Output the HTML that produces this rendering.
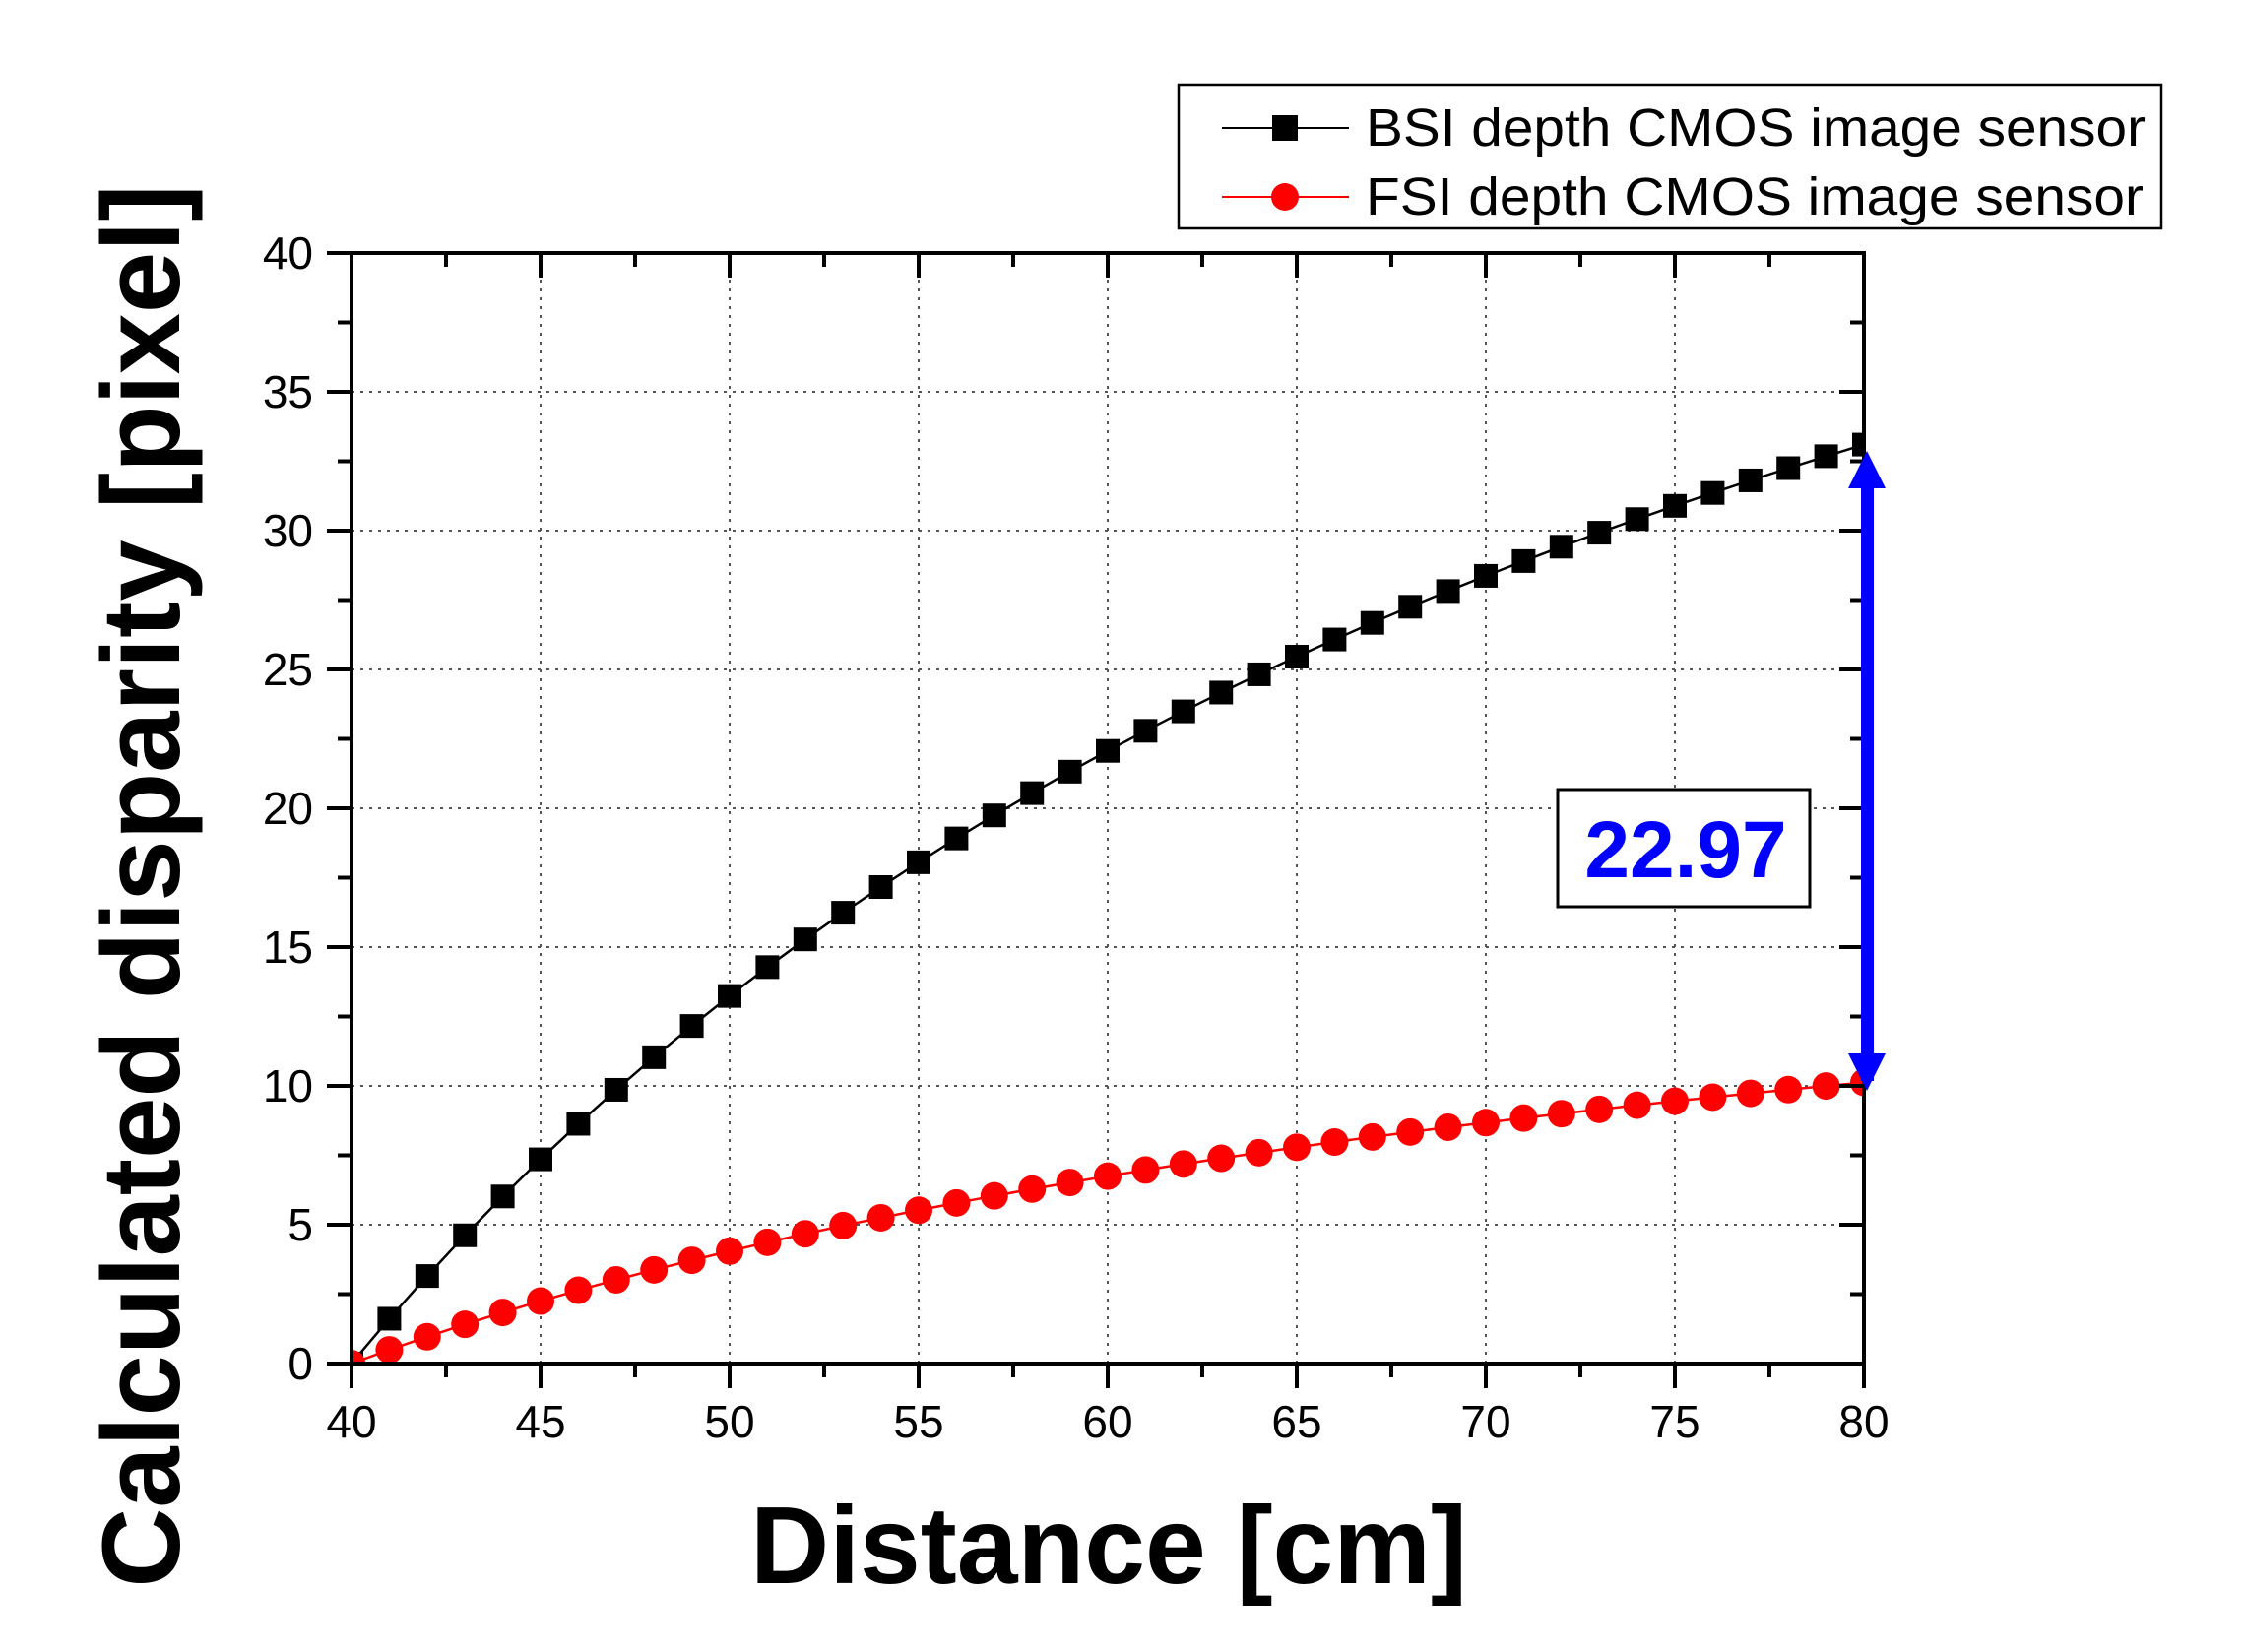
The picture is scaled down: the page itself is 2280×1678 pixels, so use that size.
<!DOCTYPE html>
<html><head><meta charset="utf-8"><style>
html,body{margin:0;padding:0;background:#fff;}
svg{display:block;}
text{font-family:"Liberation Sans",Arial,sans-serif;}
</style></head><body>
<svg id="s" width="2280" height="1678" viewBox="0 0 2280 1678" xmlns="http://www.w3.org/2000/svg">
<defs><clipPath id="c"><rect x="357" y="257" width="1536" height="1128"/></clipPath></defs>
<g id="grid" stroke="#555" stroke-width="2" stroke-dasharray="3,6"></g>
<g id="data" clip-path="url(#c)"></g>
<g id="axes" stroke="#000" stroke-width="4" fill="none">
<rect x="357" y="257" width="1536" height="1128"/>
</g>
<g id="ticks" stroke="#000" stroke-width="4"></g>
<g font-size="46" fill="#000" text-anchor="end">
<text x="318" y="1401">0</text>
<text x="318" y="1260">5</text>
<text x="318" y="1119">10</text>
<text x="318" y="978">15</text>
<text x="318" y="837">20</text>
<text x="318" y="696">25</text>
<text x="318" y="555">30</text>
<text x="318" y="414">35</text>
<text x="318" y="273">40</text>
</g>
<g font-size="46" fill="#000" text-anchor="middle">
<text x="357" y="1460">40</text>
<text x="549" y="1460">45</text>
<text x="741" y="1460">50</text>
<text x="933" y="1460">55</text>
<text x="1125" y="1460">60</text>
<text x="1317" y="1460">65</text>
<text x="1509" y="1460">70</text>
<text x="1701" y="1460">75</text>
<text x="1893" y="1460">80</text>
</g>
<text x="1126" y="1608" font-size="111" font-weight="bold" text-anchor="middle">Distance [cm]</text>
<text transform="translate(182,900) rotate(-90)" font-size="112" font-weight="bold" text-anchor="middle">Calculated disparity [pixel]</text>
<rect x="1197" y="86" width="998" height="146" fill="#fff" stroke="#000" stroke-width="2.5"/>
<line x1="1241" y1="130" x2="1370" y2="130" stroke="#000" stroke-width="2"/>
<rect x="1292" y="117" width="26" height="26" fill="#000"/>
<line x1="1241" y1="200" x2="1370" y2="200" stroke="#f00" stroke-width="2"/>
<circle cx="1305" cy="200" r="14" fill="#f00"/>
<text x="1387" y="148" font-size="54" textLength="792" lengthAdjust="spacingAndGlyphs">BSI depth CMOS image sensor</text>
<text x="1387" y="218" font-size="54" textLength="790" lengthAdjust="spacingAndGlyphs">FSI depth CMOS image sensor</text>
<rect x="1582" y="802" width="256" height="119" fill="#fff" stroke="#000" stroke-width="3"/>
<text x="1712" y="891" font-size="82" font-weight="bold" fill="#0000ff" text-anchor="middle" font-family="'DejaVu Sans',sans-serif">22.97</text>
<rect x="1890" y="494" width="13" height="604" fill="#0000ff"/>
<polygon points="1896,458 1877,496 1915,496" fill="#0000ff"/>
<polygon points="1896,1108 1877,1070 1915,1070" fill="#0000ff"/>
</svg>
<script>
var NS="http://www.w3.org/2000/svg";
function X(v){return 357+(v-40)*38.4;}
function Y(v){return 1385-v*28.2;}
function el(p,t,a){var e=document.createElementNS(NS,t);for(var k in a)e.setAttribute(k,a[k]);p.appendChild(e);return e;}
var g=document.getElementById('grid');
for(var v=45;v<80;v+=5)el(g,'line',{x1:X(v),y1:257,x2:X(v),y2:1385});
for(var v=5;v<40;v+=5)el(g,'line',{x1:357,y1:Y(v),x2:1893,y2:Y(v)});
var t=document.getElementById('ticks');
for(var i=0;i<=16;i++){var v=40+i*2.5,maj=(i%2==0),L=maj?25:14;
 el(t,'line',{x1:X(v),y1:1385,x2:X(v),y2:1385+L});
 el(t,'line',{x1:X(v),y1:257,x2:X(v),y2:257+L});}
for(var i=0;i<=16;i++){var v=i*2.5,maj=(i%2==0),L=maj?25:14;
 el(t,'line',{x1:357-L,y1:Y(v),x2:357,y2:Y(v)});
 el(t,'line',{x1:1893-L,y1:Y(v),x2:1893,y2:Y(v)});}
var d=document.getElementById('data');
var pb=[],pf=[];
for(var x=40;x<=80;x++){var a=1/40-1/x;pb.push([X(x),Y(2648*a)]);pf.push([X(x),Y(810*a)]);}
el(d,'polyline',{points:pb.map(p=>p.join(',')).join(' '),fill:'none',stroke:'#000','stroke-width':2.5});
pb.forEach(p=>el(d,'rect',{x:p[0]-12,y:p[1]-12,width:24,height:24,fill:'#000'}));
el(d,'polyline',{points:pf.map(p=>p.join(',')).join(' '),fill:'none',stroke:'#f00','stroke-width':2.5});
pf.forEach(p=>el(d,'circle',{cx:p[0],cy:p[1],r:14,fill:'#f00'}));
</script>
</body></html>
